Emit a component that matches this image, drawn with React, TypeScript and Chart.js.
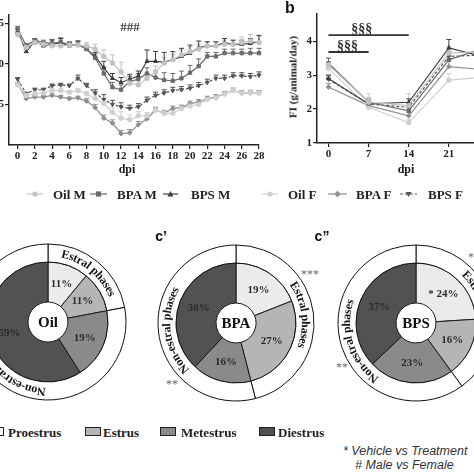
import React, { useEffect, useRef } from 'react';
import { Chart, registerables } from 'chart.js';

Chart.register(...registerables);

const SERIF = '"Liberation Serif", "Times New Roman", serif';
const SANS = '"Liberation Sans", Arial, sans-serif';

// ---------- Panel a (daily values, dpi 0..28) ----------
const DAYS_A = [0, 1, 2, 3, 4, 5, 6, 7, 8, 9, 10, 11, 12, 13, 14, 15, 16, 17, 18, 19, 20, 21, 22, 23, 24, 25, 26, 27, 28];
const X_TICKS_A = [0, 2, 4, 6, 8, 10, 12, 14, 16, 18, 20, 22, 24, 26, 28];
const Y_TICKS_A = [15, 20, 25];

const OIL_M_A = [23.6, 22.0, 22.6, 22.4, 22.2, 22.2, 22.3, 22.3, 22.2, 21.8, 20.9, 20.1, 19.0, 17.6, 17.4, 18.2, 19.0, 20.1, 20.5, 21.1, 21.5, 21.8, 22.2, 22.2, 22.4, 22.4, 22.6, 22.8, 22.6];
const BPA_M_A = [24.3, 22.2, 22.9, 22.6, 22.5, 22.7, 22.3, 22.4, 21.8, 20.7, 18.8, 17.1, 16.8, 17.8, 18.1, 18.8, 18.3, 18.0, 17.9, 18.2, 18.9, 19.7, 20.9, 20.9, 21.3, 21.3, 21.3, 21.3, 21.3];
const BPS_M_A = [24.0, 21.5, 22.8, 22.2, 22.4, 22.6, 22.2, 22.4, 21.8, 20.9, 19.5, 18.2, 17.7, 18.1, 18.5, 20.3, 20.3, 20.2, 20.5, 20.9, 21.3, 22.0, 22.2, 22.2, 22.6, 22.4, 22.4, 22.5, 22.7];
const OIL_F_A = [17.4, 16.1, 16.3, 16.4, 16.7, 16.7, 16.5, 16.7, 16.3, 15.7, 15.1, 14.0, 13.3, 13.1, 13.6, 13.6, 14.3, 13.9, 13.9, 14.5, 14.8, 15.0, 15.6, 15.8, 16.3, 16.7, 16.4, 16.5, 16.4];
const BPA_F_A = [17.5, 15.7, 15.9, 15.9, 16.1, 15.9, 15.7, 15.8, 15.4, 14.6, 13.3, 12.7, 11.4, 11.5, 12.5, 13.2, 14.3, 13.9, 14.5, 14.6, 15.1, 15.3, 15.7, 15.9, 16.3, 16.7, 16.4, 16.4, 16.4];
const BPS_F_A = [18.1, 16.3, 16.8, 16.8, 17.3, 17.4, 17.3, 18.2, 17.3, 16.4, 15.6, 15.0, 14.7, 14.5, 14.7, 15.5, 16.1, 16.4, 16.7, 16.8, 17.0, 17.3, 17.7, 18.2, 18.2, 18.5, 18.5, 18.4, 18.6];

const OIL_M_A_ERR = [0.3, 0.3, 0.2, 0.3, 0.3, 0.3, 0.3, 0.3, 0.4, 0.6, 0.8, 1.0, 1.2, 1.0, 0.8, 0.6, 0.7, 0.7, 0.6, 0.6, 0.6, 0.6, 0.5, 0.5, 0.5, 0.5, 0.7, 0.8, 0.8];
const BPA_M_A_ERR = [0.3, 0.3, 0.2, 0.3, 0.5, 0.5, 0.4, 0.4, 0.4, 0.5, 0.8, 0.6, 0.6, 0.6, 0.7, 0.7, 0.8, 0.9, 0.9, 0.9, 0.9, 0.9, 0.5, 0.5, 0.5, 0.5, 0.5, 0.6, 0.6];
const BPS_M_A_ERR = [0.3, 0.3, 0.2, 0.3, 0.5, 0.5, 0.4, 0.4, 0.4, 0.5, 0.8, 0.6, 0.6, 0.6, 0.6, 1.4, 1.2, 1.2, 1.0, 1.0, 1.0, 0.8, 0.5, 0.5, 0.5, 0.5, 0.5, 0.6, 0.8];
const OIL_F_A_ERR = [0.2, 0.2, 0.2, 0.2, 0.2, 0.2, 0.2, 0.2, 0.3, 0.5, 0.6, 0.6, 0.8, 0.6, 0.5, 0.4, 0.4, 0.4, 0.4, 0.4, 0.4, 0.4, 0.3, 0.3, 0.3, 0.3, 0.3, 0.3, 0.3];
const BPA_F_A_ERR = [0.2, 0.2, 0.2, 0.2, 0.2, 0.2, 0.2, 0.2, 0.3, 0.4, 0.4, 0.4, 0.4, 0.4, 0.4, 0.3, 0.3, 0.3, 0.3, 0.3, 0.3, 0.3, 0.3, 0.3, 0.3, 0.3, 0.3, 0.3, 0.3];
const BPS_F_A_ERR = [0.2, 0.2, 0.2, 0.2, 0.2, 0.2, 0.2, 0.4, 0.3, 0.4, 0.6, 0.5, 0.5, 0.4, 0.4, 0.4, 0.4, 0.4, 0.4, 0.4, 0.4, 0.4, 0.4, 0.4, 0.4, 0.4, 0.4, 0.4, 0.4];

// ---------- Panel b (FI, g/animal/day) ----------
const DAYS_B = [0, 7, 14, 21, 28];
const Y_TICKS_B = [1, 2, 3, 4];
const OIL_M_B = [3.3, 2.2, 2.1, 3.65, 3.7];
const BPA_M_B = [3.35, 2.2, 1.95, 3.45, 3.85];
const BPS_M_B = [2.9, 2.15, 2.2, 3.8, 3.5];
const OIL_F_B = [3.2, 2.05, 1.6, 2.85, 2.95];
const BPA_F_B = [2.65, 2.1, 1.8, 3.25, 3.15];
const BPS_F_B = [2.88, 2.15, 2.05, 3.55, 3.6];
const OIL_M_B_ERR = [0.2, 0.15, 0.35, 0.2, 0.2];
const BPA_M_B_ERR = [0.15, 0.1, 0.1, 0.2, 0.2];
const BPS_M_B_ERR = [0.1, 0.1, 0.1, 0.25, 0.2];
const OIL_F_B_ERR = [0.2, 0.4, 0.1, 0.2, 0.2];
const BPA_F_B_ERR = [0.1, 0.1, 0.1, 0.2, 0.2];
const BPS_F_B_ERR = [0.1, 0.1, 0.1, 0.15, 0.2];

const SIG_FROM = [0, 0];
const SIG_TO = [14, 7];
const SIG_LEVEL = [4.18, 3.68];
const SIG_TEXT = ['§§§', '§§§'];
const SIG_TEXT_AT = [5.8, 3.3];

// ---------- Panels c, c', c'' (estrous cycle %) ----------
const PHASES = ['Proestrus', 'Estrus', 'Metestrus', 'Diestrus'];
const OIL_PCT = [11, 11, 19, 59];
const BPA_PCT = [19, 27, 16, 38];
const BPS_PCT = [24, 16, 23, 37];
const RING_LABELS = ['Estral phases', 'Non-estral phases'];
const OIL_MARKS = ['', '', '', ''];
const BPA_MARKS = ['', '', '', ''];
const BPS_MARKS = ['*', '', '', ''];

// ---------- styles ----------
const SERIES = [
  { label: 'Oil M', a: OIL_M_A, aErr: OIL_M_A_ERR, b: OIL_M_B, bErr: OIL_M_B_ERR },
  { label: 'BPA M', a: BPA_M_A, aErr: BPA_M_A_ERR, b: BPA_M_B, bErr: BPA_M_B_ERR },
  { label: 'BPS M', a: BPS_M_A, aErr: BPS_M_A_ERR, b: BPS_M_B, bErr: BPS_M_B_ERR },
  { label: 'Oil F', a: OIL_F_A, aErr: OIL_F_A_ERR, b: OIL_F_B, bErr: OIL_F_B_ERR },
  { label: 'BPA F', a: BPA_F_A, aErr: BPA_F_A_ERR, b: BPA_F_B, bErr: BPA_F_B_ERR },
  { label: 'BPS F', a: BPS_F_A, aErr: BPS_F_A_ERR, b: BPS_F_B, bErr: BPS_F_B_ERR },
];

const STYLE: Record<string, { color: string; point: string; rot: number; dash: number[] }> = {
  'Oil M': { color: '#c2c2c2', point: 'circle', rot: 0, dash: [] },
  'BPA M': { color: '#6a6a6a', point: 'rect', rot: 0, dash: [] },
  'BPS M': { color: '#3e3e3e', point: 'triangle', rot: 0, dash: [] },
  'Oil F': { color: '#d0d0d0', point: 'circle', rot: 0, dash: [] },
  'BPA F': { color: '#8e8e8e', point: 'rectRot', rot: 0, dash: [] },
  'BPS F': { color: '#555555', point: 'triangle', rot: 180, dash: [3, 2] },
};

const PHASE_COLORS = ['#ebebeb', '#b5b5b5', '#8a8a8a', '#525252'];
const LEGEND_BOX_COLORS = ['#f4f4f4', '#b5b5b5', '#8a8a8a', '#4f4f4f'];

const errorBarPlugin = {
  id: 'errBars',
  beforeDatasetsDraw(chart: any) {
    const ctx = chart.ctx;
    const ys = chart.scales.y;
    chart.data.datasets.forEach((ds: any, i: number) => {
      const errs = ds.errors;
      if (!errs) return;
      const meta = chart.getDatasetMeta(i);
      ctx.save();
      ctx.strokeStyle = ds.borderColor;
      ctx.lineWidth = 1;
      ctx.setLineDash([]);
      meta.data.forEach((pt: any, j: number) => {
        const v = ds.data[j].y;
        const top = ys.getPixelForValue(v + errs[j]);
        ctx.beginPath();
        ctx.moveTo(pt.x, pt.y);
        ctx.lineTo(pt.x, top);
        ctx.moveTo(pt.x - 2.5, top);
        ctx.lineTo(pt.x + 2.5, top);
        ctx.stroke();
      });
      ctx.restore();
    });
  },
};

const sigPlugin = {
  id: 'sigLines',
  afterDatasetsDraw(chart: any, _args: any, opts: any) {
    if (!opts || !opts.from) return;
    const { ctx } = chart;
    const xs = chart.scales.x;
    const ys = chart.scales.y;
    ctx.save();
    opts.from.forEach((f: number, i: number) => {
      const x1 = xs.getPixelForValue(f);
      const x2 = xs.getPixelForValue(opts.to[i]);
      const y = ys.getPixelForValue(opts.level[i]);
      ctx.strokeStyle = '#333';
      ctx.lineWidth = 1.8;
      ctx.beginPath();
      ctx.moveTo(x1, y);
      ctx.lineTo(x2, y);
      ctx.stroke();
      ctx.fillStyle = '#333';
      ctx.font = `bold 14px ${SERIF}`;
      ctx.textAlign = 'center';
      ctx.textBaseline = 'alphabetic';
      ctx.fillText(opts.text[i], xs.getPixelForValue(opts.textAt[i]), y - 2);
    });
    ctx.restore();
  },
};

function drawArcText(ctx: CanvasRenderingContext2D, text: string, cx: number, cy: number, r: number, mid: number) {
  const total = ctx.measureText(text).width;
  let theta = mid - total / (2 * r);
  for (const ch of text) {
    const w = ctx.measureText(ch).width;
    const a = theta + w / (2 * r);
    ctx.save();
    ctx.translate(cx, cy);
    ctx.rotate(a);
    ctx.fillText(ch, 0, -r);
    ctx.restore();
    theta += w / r;
  }
}

const donutPlugin = {
  id: 'donutText',
  afterDatasetsDraw(chart: any, _args: any, opts: any) {
    const { ctx } = chart;
    const ring = chart.getDatasetMeta(0).data;
    const slices = chart.getDatasetMeta(1).data;
    ctx.save();
    ctx.textAlign = 'center';
    ctx.textBaseline = 'middle';
    ctx.fillStyle = '#151515';
    ctx.font = `bold 12px ${SERIF}`;
    ring.forEach((arc: any, i: number) => {
      const p = arc.getProps(['x', 'y', 'startAngle', 'endAngle', 'innerRadius', 'outerRadius']);
      const r = (p.innerRadius + p.outerRadius) / 2;
      const mid = (p.startAngle + p.endAngle) / 2 + Math.PI / 2;
      drawArcText(ctx, opts.ringLabels[i], p.x, p.y, r, mid);
    });
    ctx.font = `bold 11px ${SERIF}`;
    ctx.fillStyle = '#2a2a2a';
    slices.forEach((arc: any, i: number) => {
      const c = arc.getCenterPoint();
      const v = chart.data.datasets[1].data[i];
      const mark = opts.marks ? opts.marks[i] : '';
      ctx.fillText((mark ? mark + ' ' : '') + v + '%', c.x, c.y);
    });
    const p0 = slices[0].getProps(['x', 'y']);
    ctx.font = `bold 15px ${SERIF}`;
    ctx.fillStyle = '#111';
    ctx.fillText(opts.center, p0.x, p0.y + 1);
    ctx.restore();
  },
};

function axis(extra: any) {
  return {
    type: 'linear',
    grid: { display: true, drawOnChartArea: false, drawTicks: true, tickLength: 4, color: '#222', lineWidth: 1.2 },
    border: { display: true, color: '#222', width: 1.5 },
    ticks: { color: '#222', font: { family: SERIF, weight: 'bold', size: 11 }, padding: 1, autoSkip: false, maxRotation: 0 },
    ...extra,
  };
}

function lineDatasets(days: number[], key: 'a' | 'b') {
  return SERIES.map((s) => {
    const st = STYLE[s.label];
    const vals = key === 'a' ? s.a : s.b;
    const errs = key === 'a' ? s.aErr : s.bErr;
    return {
      label: s.label,
      data: days.map((d, i) => ({ x: d, y: vals[i] })),
      errors: errs,
      borderColor: st.color,
      backgroundColor: st.color,
      pointBackgroundColor: st.color,
      pointBorderColor: st.color,
      borderWidth: 1.2,
      borderDash: st.dash,
      pointStyle: st.point,
      pointRotation: st.rot,
      pointRadius: 2.3,
      pointBorderWidth: 1,
      clip: false,
      tension: 0,
    };
  });
}

function lineConfig(days: number[], key: 'a' | 'b', xMin: number, xMax: number, xTicks: number[], yMin: number, yMax: number, yTicks: number[], yW: number, padTop: number, sig: any) {
  return {
    type: 'line',
    data: { datasets: lineDatasets(days, key) },
    plugins: [errorBarPlugin, sigPlugin],
    options: {
      animation: false,
      responsive: false,
      devicePixelRatio: 1,
      layout: { padding: { top: padTop, right: 8, left: 0, bottom: 0 } },
      plugins: { legend: { display: false }, tooltip: { enabled: false }, sigLines: sig },
      scales: {
        x: axis({
          min: xMin,
          max: xMax,
          afterBuildTicks: (ax: any) => { ax.ticks = xTicks.map((v) => ({ value: v })); },
          afterFit: (s: any) => { s.height = 24; },
        }),
        y: axis({
          min: yMin,
          max: yMax,
          afterBuildTicks: (ax: any) => { ax.ticks = yTicks.map((v) => ({ value: v })); },
          afterFit: (s: any) => { s.width = yW; },
        }),
      },
    },
  };
}

function donutConfig(pct: number[], center: string, marks: string[]) {
  const estral = pct[0] + pct[1];
  const nonEstral = pct[2] + pct[3];
  return {
    type: 'doughnut',
    data: {
      labels: PHASES,
      datasets: [
        { data: [estral, nonEstral], backgroundColor: ['#ffffff', '#ffffff'], borderColor: '#111', borderWidth: 1, weight: 18 },
        { data: pct, backgroundColor: PHASE_COLORS, borderColor: '#1a1a1a', borderWidth: 1, weight: 40 },
      ],
    },
    plugins: [donutPlugin],
    options: {
      animation: false,
      responsive: false,
      devicePixelRatio: 1,
      radius: 78,
      cutout: `${(20 / 78) * 100}%`,
      layout: { padding: 0 },
      plugins: {
        legend: { display: false },
        tooltip: { enabled: false },
        donutText: { ringLabels: RING_LABELS, center, marks },
      },
    },
  };
}

const TOP_LEGEND_POS = [
  { x1: 27, x2: 43, tx: 53 },
  { x1: 90, x2: 107, tx: 117 },
  { x1: 163, x2: 178, tx: 191 },
  { x1: 262, x2: 278, tx: 288 },
  { x1: 328, x2: 347, tx: 356 },
  { x1: 400, x2: 417, tx: 428 },
];
const BOTTOM_LEGEND_POS = [
  { bx: -12, tx: 8 },
  { bx: 85, tx: 103 },
  { bx: 160, tx: 181 },
  { bx: 259, tx: 278 },
];

function Marker({ kind, cx, cy, color }: { kind: string; cx: number; cy: number; color: string }) {
  const r = 2.6;
  if (kind === 'circle') return <circle cx={cx} cy={cy} r={r} fill={color} />;
  if (kind === 'rect') return <rect x={cx - r} y={cy - r} width={2 * r} height={2 * r} fill={color} />;
  if (kind === 'rectRot') return <polygon points={`${cx},${cy - r - 0.6} ${cx + r + 0.6},${cy} ${cx},${cy + r + 0.6} ${cx - r - 0.6},${cy}`} fill={color} />;
  return null;
}

function Txt({ t, x, y, size, font, weight = 'bold', style = 'normal', color = '#1a1a1a', align = 'center', rot = 0 }: any) {
  const tx = align === 'center' ? '-50%' : '0';
  return (
    <div
      style={{
        position: 'absolute',
        left: x,
        top: y,
        transform: `translate(${tx}, -50%) rotate(${rot}deg)`,
        fontFamily: font,
        fontSize: size,
        fontWeight: weight,
        fontStyle: style,
        color,
        whiteSpace: 'nowrap',
        lineHeight: 1,
      }}
    >
      {t}
    </div>
  );
}

export default function App() {
  const aRef = useRef<HTMLCanvasElement>(null);
  const bRef = useRef<HTMLCanvasElement>(null);
  const c1Ref = useRef<HTMLCanvasElement>(null);
  const c2Ref = useRef<HTMLCanvasElement>(null);
  const c3Ref = useRef<HTMLCanvasElement>(null);

  useEffect(() => {
    const charts: Chart[] = [];
    charts.push(new Chart(aRef.current as any, lineConfig(DAYS_A, 'a', -1, 28, X_TICKS_A, 10, 26, Y_TICKS_A, 40, 15, {}) as any));
    charts.push(
      new Chart(
        bRef.current as any,
        lineConfig(DAYS_B, 'b', -2, 28, DAYS_B, 1, 4.8, Y_TICKS_B, 30, 14, {
          from: SIG_FROM,
          to: SIG_TO,
          level: SIG_LEVEL,
          text: SIG_TEXT,
          textAt: SIG_TEXT_AT,
        }) as any,
      ),
    );
    charts.push(new Chart(c1Ref.current as any, donutConfig(OIL_PCT, 'Oil', OIL_MARKS) as any));
    charts.push(new Chart(c2Ref.current as any, donutConfig(BPA_PCT, 'BPA', BPA_MARKS) as any));
    charts.push(new Chart(c3Ref.current as any, donutConfig(BPS_PCT, 'BPS', BPS_MARKS) as any));
    return () => charts.forEach((c) => c.destroy());
  }, []);

  const canvasStyle = (l: number, t: number, w: number, h: number): React.CSSProperties => ({
    position: 'absolute',
    left: l,
    top: t,
    width: w,
    height: h,
  });

  return (
    <div style={{ position: 'absolute', left: 0, top: 0, width: 474, height: 474, overflow: 'hidden', background: '#fff' }}>
      <canvas ref={aRef} width={298} height={169} style={canvasStyle(-31, 0, 298, 169)} />
      <canvas ref={bRef} width={210} height={167} style={canvasStyle(287, 0, 210, 167)} />
      <canvas ref={c1Ref} width={180} height={180} style={canvasStyle(48 - 90, 322 - 90, 180, 180)} />
      <canvas ref={c2Ref} width={180} height={180} style={canvasStyle(236 - 90, 323 - 90, 180, 180)} />
      <canvas ref={c3Ref} width={180} height={180} style={canvasStyle(416 - 90, 323 - 90, 180, 180)} />

      <Txt t="###" x={130} y={26} size={13} font={SERIF} color="#444" />
      <Txt t="b" x={290} y={8} size={16} font={SANS} color="#111" />
      <Txt t="FI (g/animal/day)" x={293} y={77} size={11} font={SERIF} rot={-90} />
      <Txt t="dpi" x={127} y={169} size={12} font={SERIF} />
      <Txt t="dpi" x={406} y={169} size={12} font={SERIF} />
      <Txt t="c’" x={161} y={236} size={14} font={SANS} color="#111" />
      <Txt t="c”" x={322} y={236} size={14} font={SANS} color="#111" />
      <Txt t="***" x={310} y={274} size={12} font={SERIF} weight="normal" color="#666" />
      <Txt t="**" x={172} y={384} size={12} font={SERIF} weight="normal" color="#666" />
      <Txt t="**" x={342} y={367} size={12} font={SERIF} weight="normal" color="#666" />
      <Txt t="*" x={471} y={257} size={12} font={SERIF} weight="normal" color="#666" />

      <svg width={474} height={20} style={{ position: 'absolute', left: 0, top: 184 }}>
        {SERIES.map((s, i) => {
          const st = STYLE[s.label];
          const p = TOP_LEGEND_POS[i];
          const cx = (p.x1 + p.x2) / 2;
          return (
            <g key={s.label}>
              <line x1={p.x1} x2={p.x2} y1={10} y2={10} stroke={st.color} strokeWidth={1.2} strokeDasharray={st.dash.join(' ')} />
              {st.point === 'triangle' ? (
                <polygon
                  points={st.rot === 180 ? `${cx - 3},${8} ${cx + 3},${8} ${cx},${13}` : `${cx - 3},${12.5} ${cx + 3},${12.5} ${cx},${7}`}
                  fill={st.color}
                />
              ) : (
                <Marker kind={st.point} cx={cx} cy={10} color={st.color} />
              )}
            </g>
          );
        })}
      </svg>
      {SERIES.map((s, i) => (
        <Txt key={s.label} t={s.label} x={TOP_LEGEND_POS[i].tx} y={194} size={13} font={SERIF} align="left" color="#222" />
      ))}

      {PHASES.map((ph, i) => (
        <React.Fragment key={ph}>
          <div
            style={{
              position: 'absolute',
              left: BOTTOM_LEGEND_POS[i].bx,
              top: 427,
              width: 16,
              height: 9,
              background: LEGEND_BOX_COLORS[i],
              border: '1.5px solid #222',
              boxSizing: 'border-box',
            }}
          />
          <Txt t={ph} x={BOTTOM_LEGEND_POS[i].tx} y={432} size={13} font={SERIF} align="left" color="#222" />
        </React.Fragment>
      ))}

      <Txt t="* Vehicle vs Treatment" x={343} y={451} size={12.5} font={SANS} weight="normal" style="italic" align="left" color="#333" />
      <Txt t="# Male vs Female" x={355} y={465} size={12.5} font={SANS} weight="normal" style="italic" align="left" color="#333" />
    </div>
  );
}
